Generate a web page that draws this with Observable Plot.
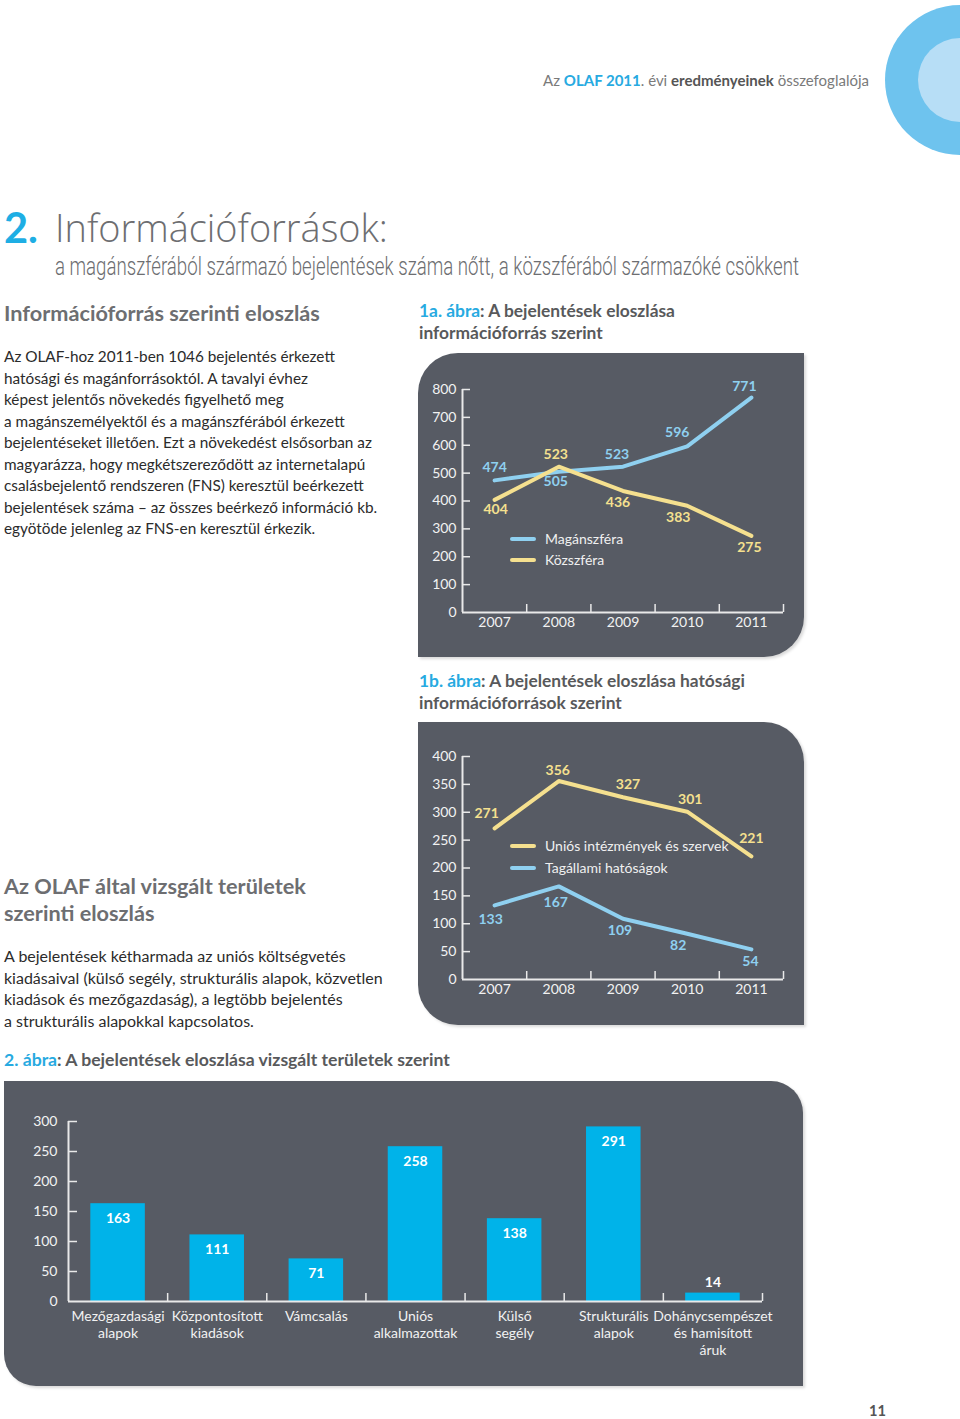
<!DOCTYPE html>
<html><head><meta charset="utf-8">
<script src="https://cdn.jsdelivr.net/npm/d3@7"></script>
<script src="https://cdn.jsdelivr.net/npm/@observablehq/plot@0.6"></script>
<style>
body{margin:0;width:960px;height:1419px;position:relative;overflow:hidden;background:#fff;font-family:Lato,"Open Sans",sans-serif;}
.abs{position:absolute;white-space:nowrap;line-height:1.2;}
.panel{position:absolute;background:#575b64;box-shadow:2px 2px 3px rgba(0,0,0,0.15);}
.chart{position:absolute;}
.blue{color:#27aae1;}
.h{font-weight:700;color:#6d6e71;font-size:20px;}
.cap{font-weight:700;color:#58595b;font-size:16px;}
.p{color:#2b2b2b;font-size:16px;}
.leg{position:absolute;color:#f0f0f0;font-size:14px;white-space:nowrap;font-family:Lato,sans-serif;}
.sw{position:absolute;height:4px;width:26px;border-radius:2px;}
</style></head><body>

<div style="position:absolute;left:885px;top:5px;width:150px;height:150px;border-radius:50%;background:#6ec3ee"></div>
<div style="position:absolute;left:918px;top:38px;width:84px;height:84px;border-radius:50%;background:#b7def6"></div>

<div id="hdr" class="abs" style="right:91px;color:#7a7a7a;font-size:15px;">Az <b class="blue">OLAF 2011</b>. évi <b style="color:#555">eredményeinek</b> összefoglalója</div>

<div id="t2" class="abs" style="left:4px;color:#1eaee4;font-weight:700;font-size:40px;">2.</div>
<div id="t1" class="abs" style="left:55px;color:#6d6e71;font-weight:300;font-size:40px;font-family:'Open Sans',Lato,sans-serif;">Információforrások:</div>
<div id="sub" class="abs" style="left:55px;color:#6d6e71;font-weight:300;font-size:26px;font-family:Roboto,sans-serif;transform-origin:left center;">a magánszférából származó bejelentések száma nőtt, a közszférából származóké csökkent</div>

<div id="h1" class="abs h" style="left:4px;">Információforrás szerinti eloszlás</div>
<div class="abs p pl1" style="left:4px;">Az OLAF-hoz 2011-ben 1046 bejelentés érkezett</div>
<div class="abs p pl1" style="left:4px;">hatósági és magánforrásoktól. A tavalyi évhez</div>
<div class="abs p pl1" style="left:4px;">képest jelentős növekedés figyelhető meg</div>
<div class="abs p pl1" style="left:4px;">a magánszemélyektől és a magánszférából érkezett</div>
<div class="abs p pl1" style="left:4px;">bejelentéseket illetően. Ezt a növekedést elsősorban az</div>
<div class="abs p pl1" style="left:4px;">magyarázza, hogy megkétszereződött az internetalapú</div>
<div class="abs p pl1" style="left:4px;">csalásbejelentő rendszeren (FNS) keresztül beérkezett</div>
<div class="abs p pl1" style="left:4px;">bejelentések száma – az összes beérkező információ kb.</div>
<div class="abs p pl1" style="left:4px;">egyötöde jelenleg az FNS-en keresztül érkezik.</div>

<div class="abs cap c1a" style="left:419px;"><span class="blue">1a. ábra</span>: A bejelentések eloszlása</div>
<div class="abs cap c1a" style="left:419px;">információforrás szerint</div>

<div class="panel" style="left:418px;top:353px;width:386px;height:304px;border-radius:40px 0 40px 0;"></div>
<div id="chart1a" class="chart" style="left:418px;top:353px;"></div>
<div class="sw" style="left:510px;top:537px;background:#8fd0f0"></div>
<div class="leg" style="left:545px;top:530px;">Magánszféra</div>
<div class="sw" style="left:510px;top:558px;background:#f5e08f"></div>
<div class="leg" style="left:545px;top:551px;">Közszféra</div>

<div class="abs cap c1b" style="left:419px;"><span class="blue">1b. ábra</span>: A bejelentések eloszlása hatósági</div>
<div class="abs cap c1b" style="left:419px;">információforrások szerint</div>

<div class="panel" style="left:418px;top:722px;width:386px;height:303px;border-radius:0 40px 0 40px;"></div>
<div id="chart1b" class="chart" style="left:418px;top:722px;"></div>
<div class="sw" style="left:510px;top:844px;background:#f5e08f"></div>
<div class="leg" style="left:545px;top:837px;">Uniós intézmények és szervek</div>
<div class="sw" style="left:510px;top:866px;background:#8fd0f0"></div>
<div class="leg" style="left:545px;top:859px;">Tagállami hatóságok</div>

<div class="abs h h2" style="left:4px;">Az OLAF által vizsgált területek</div>
<div class="abs h h2" style="left:4px;">szerinti eloszlás</div>
<div class="abs p pl2" style="left:4px;">A bejelentések kétharmada az uniós költségvetés</div>
<div class="abs p pl2" style="left:4px;">kiadásaival (külső segély, strukturális alapok, közvetlen</div>
<div class="abs p pl2" style="left:4px;">kiadások és mezőgazdaság), a legtöbb bejelentés</div>
<div class="abs p pl2" style="left:4px;">a strukturális alapokkal kapcsolatos.</div>

<div id="c2" class="abs cap" style="left:4px;"><span class="blue">2. ábra</span>: A bejelentések eloszlása vizsgált területek szerint</div>

<div class="panel" style="left:4px;top:1081px;width:799px;height:305px;border-radius:0 32px 0 32px;"></div>
<div id="chart2" class="chart" style="left:4px;top:1081px;"></div>

<div id="pg" class="abs" style="left:869px;color:#555;font-weight:700;font-size:16px;">11</div>

<script>
// ---------- DATA ----------
const years = ["2007", "2008", "2009", "2010", "2011"];
const maganszfera = [474, 505, 523, 596, 771];
const kozszfera = [404, 523, 436, 383, 275];
const uniosIntezmenyek = [271, 356, 327, 301, 221];
const tagallamiHatosagok = [133, 167, 109, 82, 54];
const teruletek = ["Mezőgazdasági\nalapok", "Központosított\nkiadások", "Vámcsalás", "Uniós\nalkalmazottak", "Külső\nsegély", "Strukturális\nalapok", "Dohánycsempészet\nés hamisított\náruk"];
const teruletErtekek = [163, 111, 71, 258, 138, 291, 14];
const ticks1a = [0, 100, 200, 300, 400, 500, 600, 700, 800];
const ticks1b = [0, 50, 100, 150, 200, 250, 300, 350, 400];
const ticks2 = [0, 50, 100, 150, 200, 250, 300];

// ---------- label layout (pixel offsets, not data) ----------
const offMagan = [[0,-13],[-3,10],[-6,-12],[-10,-14],[-7,-11]];
const offKoz = [[1,10],[-3,-12],[-5,12],[-9,12],[-2,12]];
const offUnios = [[-8,-15],[-1,-11],[5,-13],[3,-12],[0,-18]];
const offTag = [[-4,14],[-3,16],[-3,12],[-9,12],[-1,12]];

const BLUE = "#8fd0f0", YELLOW = "#f5e08f", AXIS = "#e9e9e9", TXT = "#f2f2f2";
const FONT = "Lato, sans-serif";

// ---------- text fitting ----------
function fitGroup(els, targetW, cys, scaleX) {
  els = Array.from(els);
  const w = els[0].getBoundingClientRect().width;
  if (scaleX) {
    els.forEach(e => e.style.transform = `scaleX(${targetW / w})`);
  } else {
    const fs = parseFloat(getComputedStyle(els[0]).fontSize) * targetW / w;
    els.forEach(e => e.style.fontSize = fs + "px");
  }
  els.forEach((e, i) => { const h = e.getBoundingClientRect().height; e.style.top = (cys[i] - h / 2) + "px"; });
}
fitGroup([document.getElementById("hdr")], 326, [80]);
fitGroup([document.getElementById("t1")], 333, [228]);
fitGroup([document.getElementById("t2")], 34, [228]);
fitGroup([document.getElementById("sub")], 744, [267], true);
fitGroup([document.getElementById("h1")], 316, [313]);
fitGroup(document.querySelectorAll(".pl1"), 331, [356,378,399,421,442,464,485,507,528]);
fitGroup(document.querySelectorAll(".c1a"), 256, [311,333]);
fitGroup(document.querySelectorAll(".c1b"), 326, [681,703]);
fitGroup(document.querySelectorAll(".h2"), 302, [886,913]);
fitGroup(document.querySelectorAll(".pl2"), 342, [956,978,999,1021]);
fitGroup([document.getElementById("c2")], 446, [1060]);
fitGroup([document.getElementById("pg")], 17, [1411]);

// ---------- line chart ----------
function lineChart(el, {series, ticks, width, height, mt, mb, ml = 44, mr = 21}) {
  const ymax = ticks[ticks.length - 1];
  const n = years.length;
  const innerH = height - mt - mb, innerW = width - ml - mr;
  const tickY = 8 * ymax / innerH, tickX = 8 * n / innerW;
  const marks = [
    Plot.ruleX([0], {y1: 0, y2: ymax, stroke: AXIS, strokeWidth: 2}),
    Plot.ruleY([0], {x1: 0, x2: n, stroke: AXIS, strokeWidth: 2}),
    Plot.ruleX(d3.range(1, n + 1), {y1: 0, y2: tickY, stroke: AXIS, strokeWidth: 1.5}),
    Plot.ruleY(ticks.slice(1), {x1: 0, x2: tickX, stroke: AXIS, strokeWidth: 1.5}),
    Plot.axisY(ticks, {tickSize: 0, tickPadding: 6, label: null, fill: TXT, fontSize: 14}),
    Plot.axisX(d3.range(n).map(i => i + 0.5), {tickFormat: v => years[Math.floor(v)], tickSize: 0, tickPadding: 5, label: null, fill: TXT, fontSize: 14})
  ];
  for (const s of series) {
    const recs = s.values.map((v, i) => ({x: i + 0.5, y: v}));
    marks.push(Plot.line(recs, {x: "x", y: "y", stroke: s.color, strokeWidth: 4, strokeLinejoin: "round", strokeLinecap: "round"}));
  }
  for (const s of series) {
    s.values.forEach((v, i) => {
      marks.push(Plot.text([{x: i + 0.5, y: v}], {x: "x", y: "y", text: d => String(d.y), fill: s.color, fontWeight: "bold", fontSize: 14, dx: s.off[i][0], dy: s.off[i][1]}));
    });
  }
  const svg = Plot.plot({
    width, height, marginLeft: ml, marginRight: mr, marginTop: mt, marginBottom: mb,
    x: {domain: [0, n]}, y: {domain: [0, ymax]},
    style: {background: "transparent", color: TXT, fontFamily: FONT, fontSize: "14px", overflow: "visible"},
    marks
  });
  el.appendChild(svg);
}

lineChart(document.getElementById("chart1a"), {
  series: [{values: maganszfera, color: BLUE, off: offMagan}, {values: kozszfera, color: YELLOW, off: offKoz}],
  ticks: ticks1a, width: 386, height: 304, mt: 36, mb: 45
});
lineChart(document.getElementById("chart1b"), {
  series: [{values: uniosIntezmenyek, color: YELLOW, off: offUnios}, {values: tagallamiHatosagok, color: BLUE, off: offTag}],
  ticks: ticks1b, width: 386, height: 303, mt: 34, mb: 46
});

// ---------- bar chart ----------
(function () {
  const width = 799, height = 305, ml = 64, mr = 41, mt = 40, mb = 85;
  const n = teruletek.length, ymax = 300;
  const tickY = 8 * ymax / (height - mt - mb), tickX = 9 * n / (width - ml - mr);
  const recs = teruletErtekek.map((v, i) => ({i, v, name: teruletek[i]}));
  const svg = Plot.plot({
    width, height, marginLeft: ml, marginRight: mr, marginTop: mt, marginBottom: mb,
    x: {domain: [0, n]}, y: {domain: [0, ymax]},
    style: {background: "transparent", color: TXT, fontFamily: FONT, fontSize: "14px", overflow: "visible"},
    marks: [
      Plot.rectY(recs, {x1: d => d.i + 0.225, x2: d => d.i + 0.775, y1: 0, y2: "v", fill: "#00b3e9"}),
      Plot.ruleX([0], {y1: 0, y2: ymax, stroke: AXIS, strokeWidth: 2}),
      Plot.ruleY([0], {x1: 0, x2: n, stroke: AXIS, strokeWidth: 2}),
      Plot.ruleX(d3.range(1, n + 1), {y1: 0, y2: tickY, stroke: AXIS, strokeWidth: 1.5}),
      Plot.ruleY(ticks2.slice(1), {x1: 0, x2: tickX, stroke: AXIS, strokeWidth: 1.5}),
      Plot.axisY(ticks2, {tickSize: 0, tickPadding: 11, label: null, fill: TXT, fontSize: 14}),
      Plot.axisX(d3.range(n).map(i => i + 0.5), {tickFormat: v => teruletek[Math.floor(v)], tickSize: 0, tickPadding: 8, label: null, fill: TXT, fontSize: 14, lineHeight: 1.2}),
      Plot.text(recs, {filter: d => d.v >= 40, x: d => d.i + 0.5, y: "v", text: d => String(d.v), fill: "#fff", fontWeight: "bold", fontSize: 14, dy: 15}),
      Plot.text(recs, {filter: d => d.v < 40, x: d => d.i + 0.5, y: "v", text: d => String(d.v), fill: "#fff", fontWeight: "bold", fontSize: 14, dy: -11})
    ]
  });
  document.getElementById("chart2").appendChild(svg);
})();
</script>
</body></html>
